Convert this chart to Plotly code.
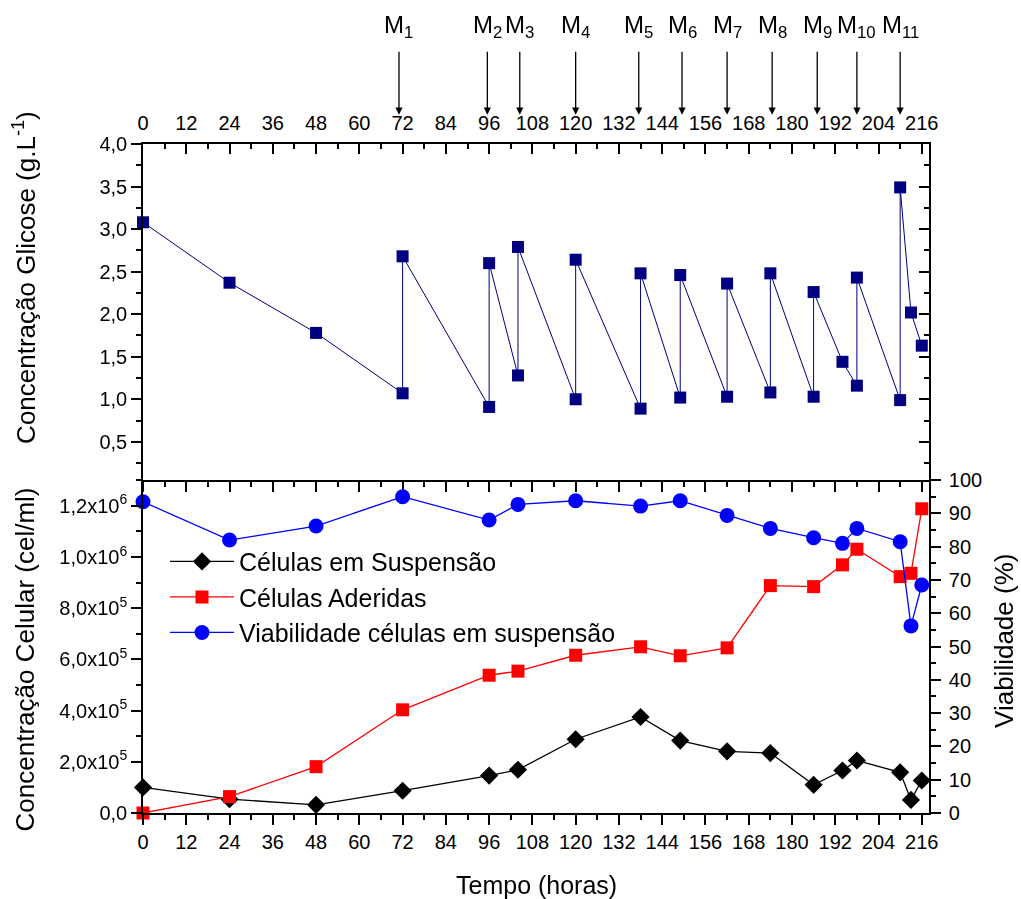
import plotly.graph_objects as go

# ---------------- data ----------------
glucose_time = [0, 24, 48, 72, 72, 96, 96, 104, 104, 120, 120, 138, 138, 149, 149,
                162, 162, 174, 174, 186, 186, 194, 198, 198, 210, 210, 213, 216]
glucose = [3.08, 2.37, 1.78, 1.07, 2.68, 0.91, 2.60, 1.28, 2.79, 1.00, 2.64, 0.89, 2.48, 1.02, 2.46,
           1.03, 2.36, 1.08, 2.48, 1.03, 2.26, 1.44, 1.16, 2.43, 0.99, 3.49, 2.02, 1.63]

cell_time = [0, 24, 48, 72, 96, 104, 120, 138, 149, 162, 174, 186, 194, 198, 210, 213, 216]
suspension = [1.00e5, 0.54e5, 0.32e5, 0.87e5, 1.46e5, 1.69e5, 2.88e5, 3.75e5, 2.83e5,
              2.41e5, 2.34e5, 1.10e5, 1.66e5, 2.05e5, 1.59e5, 0.51e5, 1.27e5]
adhered = [0.0, 0.64e5, 1.81e5, 4.03e5, 5.38e5, 5.54e5, 6.16e5, 6.49e5, 6.14e5,
           6.45e5, 8.88e5, 8.84e5, 9.69e5, 10.30e5, 9.23e5, 9.36e5, 11.88e5]
viability = [93.5, 82.0, 86.2, 95.0, 88.0, 92.7, 93.8, 92.2, 93.8,
             89.4, 85.5, 82.7, 81.0, 85.5, 81.5, 56.2, 68.5]

feed_labels = ["M<sub>1</sub>", "M<sub>2</sub>", "M<sub>3</sub>", "M<sub>4</sub>", "M<sub>5</sub>",
               "M<sub>6</sub>", "M<sub>7</sub>", "M<sub>8</sub>", "M<sub>9</sub>",
               "M<sub>10</sub>", "M<sub>11</sub>"]
feed_times = [71, 95.5, 104.5, 120, 137.5, 149.5, 162, 174.5, 187, 198, 210]

cell_tickvals = [0, 2e5, 4e5, 6e5, 8e5, 10e5, 12e5]
cell_ticktext = ["0,0", "2,0x10<sup>5</sup>", "4,0x10<sup>5</sup>", "6,0x10<sup>5</sup>",
                 "8,0x10<sup>5</sup>", "1,0x10<sup>6</sup>", "1,2x10<sup>6</sup>"]

# ---------------- styling ----------------
FONT = "Arial, Liberation Sans, Helvetica, sans-serif"
TICKF = dict(family=FONT, size=20, color="black")
SPLIT = 0.4976
XR = [0, 218]

fig = go.Figure()

fig.add_trace(go.Scatter(x=glucose_time, y=glucose, xaxis="x", yaxis="y",
                         mode="lines+markers", showlegend=False, cliponaxis=False,
                         line=dict(color="#000080", width=1),
                         marker=dict(symbol="square", size=12, color="#000080")))
# invisible copy to carry the mirrored tick axes of the top panel
fig.add_trace(go.Scatter(x=glucose_time, y=glucose, xaxis="x3", yaxis="y3",
                         mode="markers", showlegend=False, opacity=0, hoverinfo="skip"))

fig.add_trace(go.Scatter(x=cell_time, y=suspension, xaxis="x2", yaxis="y2",
                         name="Células em Suspensão", mode="lines+markers", cliponaxis=False,
                         line=dict(color="black", width=1.3),
                         marker=dict(symbol="diamond", size=14, color="black")))
fig.add_trace(go.Scatter(x=cell_time, y=adhered, xaxis="x2", yaxis="y2",
                         name="Células Aderidas", mode="lines+markers", cliponaxis=False,
                         line=dict(color="red", width=1.3),
                         marker=dict(symbol="square", size=13, color="red")))
fig.add_trace(go.Scatter(x=cell_time, y=viability, xaxis="x2", yaxis="y4",
                         name="Viabilidade células em suspensão", mode="lines+markers", cliponaxis=False,
                         line=dict(color="blue", width=1.3),
                         marker=dict(symbol="circle", size=15, color="blue")))

axis_common = dict(showline=True, linecolor="black", linewidth=1.6, showgrid=False,
                   zeroline=False, tickcolor="black", tickwidth=1.5, tickfont=TICKF)

xticks = dict(tickmode="linear", tick0=0, dtick=12, range=XR, ticklen=10)


def minor(step, direction):
    return dict(tickmode="linear", tick0=0, dtick=step, ticks=direction, ticklen=5,
                tickcolor="black", tickwidth=1.5)


fig.update_layout(
    width=1021, height=899,
    margin=dict(l=143, r=92, t=144, b=86),
    paper_bgcolor="white", plot_bgcolor="white",
    separators=", ",
    font=dict(family=FONT, color="black"),
    xaxis=dict(**axis_common, **xticks, domain=[0, 1], anchor="y", side="top", ticks="inside",
               ticklabelstandoff=4, minor=minor(6, "inside")),
    xaxis2=dict(**axis_common, **xticks, domain=[0, 1], anchor="y2", side="bottom", ticks="outside",
                minor=minor(6, "outside")),
    xaxis3=dict(**axis_common, **xticks, overlaying="x", anchor="y", side="bottom", ticks="outside",
                showticklabels=False, minor=minor(6, "outside")),
    yaxis=dict(**axis_common, domain=[SPLIT, 1], anchor="x", range=[0.05, 4.0],
               tickmode="linear", tick0=0, dtick=0.5, tickformat=".1f", ticks="outside", ticklen=10,
               minor=minor(0.25, "outside")),
    yaxis3=dict(**axis_common, overlaying="y", anchor="x3", side="right", range=[0.05, 4.0],
                tickmode="linear", tick0=0, dtick=0.5, ticks="inside", ticklen=10, showticklabels=False,
                minor=minor(0.25, "inside")),
    yaxis2=dict(**axis_common, domain=[0, SPLIT], anchor="x2", range=[0, 1.3e6],
                tickmode="array", tickvals=cell_tickvals, ticktext=cell_ticktext,
                ticks="outside", ticklen=10, minor=minor(1e5, "outside")),
    yaxis4=dict(**axis_common, overlaying="y2", anchor="x2", side="right", range=[0, 100],
                tickmode="linear", tick0=0, dtick=10, ticks="outside", ticklen=10,
                ticklabelstandoff=4, minor=minor(5, "outside")),
    legend=dict(x=0.028, y=0.41, xanchor="left", yanchor="top", bgcolor="rgba(0,0,0,0)",
                font=dict(family=FONT, size=25, color="black"), tracegroupgap=0,
                itemsizing="trace", itemwidth=64),
)

# axis titles
ann = [
    dict(text="Concentração Glicose (g.L<sup>-1</sup>)", x=-0.150, y=0.80, textangle=-90, size=26),
    dict(text="Concentração Celular (cel/ml)", x=-0.150, y=0.2297, textangle=-90, size=26),
    dict(text="Viabilidade (%)", x=1.0963, y=0.2567, textangle=-90, size=26),
    dict(text="Tempo (horas)", x=0.5, y=-0.107, textangle=0, size=25),
]
for a in ann:
    size = a.pop("size")
    fig.add_annotation(xref="paper", yref="paper", xanchor="center", yanchor="middle",
                       showarrow=False, font=dict(family=FONT, size=size, color="black"), **a)

# feed (medium exchange) arrows
for lbl, t in zip(feed_labels, feed_times):
    fig.add_annotation(x=t, xref="x", y=1.0438, yref="paper", text=lbl,
                       showarrow=True, arrowhead=2, arrowsize=1.1, arrowwidth=1.3, arrowcolor="black",
                       ax=0, ay=-88, axref="pixel", ayref="pixel", startstandoff=8,
                       font=dict(family=FONT, size=24, color="black"))

fig.write_html("out.html", config={"displayModeBar": False},
               post_script="document.body.style.margin='0';")
